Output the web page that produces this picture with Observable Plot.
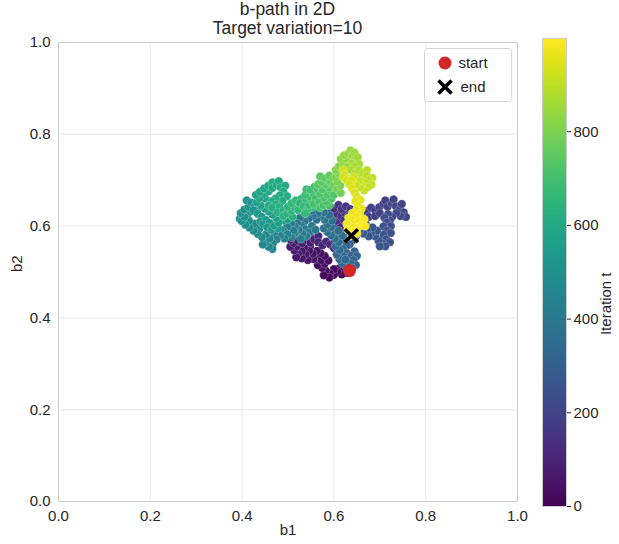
<!DOCTYPE html>
<html>
<head>
<meta charset="utf-8">
<script src="https://cdn.jsdelivr.net/npm/d3@7"></script>
<script src="https://cdn.jsdelivr.net/npm/@observablehq/plot@0.6"></script>
<style>
  body { margin: 0; background: #ffffff; font-family: "Liberation Sans", Arial, sans-serif; }
  #wrap { position: relative; width: 619px; height: 544px; }
  #wrap svg { position: absolute; top: 0; }
</style>
</head>
<body>
<div id="wrap"></div>
<script>
// ---- data: b-path points [b1, b2, iteration] ----
const segEarly = [
  [0.634,0.503,0],[0.626,0.498,4],[0.617,0.495,8],[0.608,0.500,12],[0.600,0.494,16],[0.591,0.497,20],
  [0.582,0.503,24],[0.574,0.509,28],[0.580,0.518,32],[0.573,0.526,36],[0.580,0.535,40],[0.571,0.541,44],
  [0.563,0.546,48],[0.554,0.540,52],[0.546,0.546,56],[0.538,0.538,60],[0.530,0.545,64],[0.522,0.540,68],
  [0.514,0.547,72],[0.519,0.556,76],[0.512,0.563,80],[0.522,0.568,84],[0.531,0.563,88],[0.540,0.570,92],
  [0.549,0.564,96],[0.557,0.571,100],[0.566,0.565,104],[0.575,0.558,108],[0.583,0.566,112],[0.592,0.560,116],
  [0.600,0.552,118],[0.607,0.560,120],[0.601,0.570,122],[0.608,0.579,124],[0.600,0.588,126],[0.606,0.597,128],
  [0.598,0.605,130],[0.606,0.612,132],[0.598,0.620,136],[0.607,0.627,140],[0.616,0.621,144],[0.624,0.629,148],
  [0.617,0.637,152],[0.626,0.643,156],[0.636,0.637,160],[0.645,0.629,164],
  [0.622,0.510,6],[0.612,0.508,10],[0.600,0.506,18],[0.590,0.488,22],[0.578,0.493,26],[0.565,0.515,30],
  [0.562,0.528,34],[0.588,0.525,38],[0.555,0.528,50],[0.543,0.526,58],[0.530,0.530,62],[0.518,0.532,70],
  [0.548,0.555,54],[0.535,0.553,62],[0.505,0.555,78],[0.506,0.570,82],[0.530,0.576,86],[0.548,0.578,94],
  [0.566,0.578,102],[0.614,0.605,129],[0.615,0.592,126],[0.590,0.612,134],[0.590,0.628,138],[0.600,0.638,142],
  [0.610,0.646,150],[0.622,0.613,146],[0.632,0.622,158]
];
const segRightLobe = [
  [0.654,0.634,168],[0.663,0.627,172],[0.672,0.633,176],[0.681,0.640,180],[0.690,0.634,184],[0.699,0.641,188],
  [0.708,0.648,192],[0.717,0.642,196],[0.726,0.649,200],[0.735,0.643,204],[0.744,0.637,208],[0.752,0.630,212],
  [0.745,0.622,216],[0.736,0.628,220],[0.727,0.620,224],[0.718,0.626,228],[0.710,0.618,232],[0.715,0.608,236],
  [0.708,0.599,240],[0.715,0.590,244],[0.708,0.581,248],[0.714,0.571,252],[0.706,0.562,256],[0.697,0.568,260],
  [0.690,0.578,264],[0.681,0.584,268],[0.672,0.590,272],[0.663,0.596,276],[0.669,0.605,278],[0.660,0.611,280],
  [0.660,0.618,170],[0.676,0.620,178],[0.690,0.622,186],[0.700,0.628,190],[0.712,0.656,194],[0.730,0.658,202],
  [0.748,0.648,210],[0.757,0.620,214],[0.722,0.612,230],[0.724,0.600,238],[0.724,0.585,246],[0.722,0.565,254],
  [0.712,0.556,258],[0.700,0.556,260],[0.694,0.590,266],[0.684,0.597,270],[0.676,0.578,272],[0.664,0.584,276],
  [0.655,0.588,282]
];
const segCentre = [
  [0.652,0.600,284],[0.646,0.590,288],[0.638,0.582,292],[0.630,0.575,296],[0.622,0.568,300],[0.628,0.558,304],
  [0.620,0.550,308],[0.628,0.541,312],[0.637,0.535,316],[0.643,0.526,320],[0.636,0.518,324],[0.627,0.512,328],
  [0.618,0.518,332],[0.612,0.528,336],[0.606,0.538,340],[0.612,0.548,344],[0.604,0.556,348],[0.610,0.565,352],
  [0.602,0.573,356],[0.594,0.580,360],[0.586,0.587,362],
  [0.648,0.578,290],[0.640,0.568,294],[0.634,0.560,302],[0.645,0.545,314],[0.650,0.535,318],[0.648,0.515,322],
  [0.640,0.508,326],[0.620,0.535,334],[0.625,0.527,338],[0.618,0.580,358],[0.610,0.590,360]
];
const segMidLeft = [
  [0.578,0.595,366],[0.586,0.604,370],[0.580,0.614,374],[0.571,0.620,378],[0.562,0.614,382],[0.554,0.622,386],
  [0.545,0.616,390],[0.536,0.610,394],[0.530,0.601,398],[0.538,0.593,402],[0.546,0.586,406],[0.540,0.578,410],
  [0.531,0.584,414],[0.523,0.592,418],[0.515,0.599,421],
  [0.594,0.598,368],[0.596,0.612,372],[0.590,0.624,376],[0.578,0.630,378],[0.565,0.628,382],[0.552,0.634,388],
  [0.540,0.628,392],[0.526,0.618,396],[0.520,0.606,400],[0.552,0.600,404],[0.560,0.592,406],[0.528,0.572,414],
  [0.515,0.585,420]
];
const segFarLeft = [
  [0.507,0.606,424],[0.498,0.598,428],[0.490,0.590,432],[0.499,0.582,436],[0.492,0.573,440],[0.483,0.579,444],
  [0.475,0.571,448],[0.467,0.562,452],[0.458,0.555,456],[0.452,0.564,460],[0.460,0.573,464],[0.452,0.582,468],
  [0.443,0.576,472],[0.434,0.583,476],[0.425,0.590,480],[0.416,0.597,484],[0.407,0.603,488],[0.399,0.611,492],
  [0.405,0.620,496],[0.397,0.628,500],[0.405,0.636,504],[0.414,0.642,508],[0.420,0.651,512],[0.428,0.644,516],
  [0.425,0.634,520],[0.434,0.627,524],[0.443,0.620,528],[0.452,0.613,532],[0.446,0.604,536],[0.455,0.597,540],
  [0.464,0.592,544],[0.470,0.601,548],[0.479,0.608,552],[0.474,0.618,556],[0.466,0.625,560],[0.458,0.632,564],
  [0.450,0.638,568],
  [0.512,0.590,426],[0.508,0.575,434],[0.483,0.593,438],[0.470,0.585,446],[0.466,0.550,454],[0.445,0.560,462],
  [0.438,0.595,474],[0.428,0.605,482],[0.415,0.612,486],[0.412,0.626,494],[0.418,0.632,502],[0.395,0.616,490],
  [0.410,0.656,510],[0.436,0.640,518],[0.440,0.610,530],[0.460,0.607,538],[0.478,0.595,546],[0.490,0.612,550],
  [0.500,0.615,552],[0.488,0.622,554],[0.478,0.630,558],[0.468,0.640,562],[0.460,0.645,566]
];
const segGreen = [
  [0.441,0.645,572],[0.432,0.652,576],[0.438,0.661,580],[0.430,0.668,584],[0.439,0.675,588],[0.448,0.682,592],
  [0.457,0.688,596],[0.466,0.683,600],[0.475,0.689,604],[0.484,0.684,608],[0.490,0.675,612],[0.482,0.667,616],
  [0.473,0.660,620],[0.464,0.654,624],[0.473,0.647,628],[0.482,0.641,632],[0.490,0.634,636],[0.498,0.627,640],
  [0.507,0.633,644],[0.500,0.642,648],[0.508,0.650,652],[0.517,0.656,656],[0.526,0.650,660],[0.534,0.643,664],
  [0.543,0.637,668],[0.537,0.628,672],[0.546,0.646,676],[0.552,0.655,680],[0.547,0.664,684],[0.556,0.670,688],
  [0.549,0.679,692],[0.558,0.686,696],[0.566,0.692,700],
  [0.450,0.660,574],[0.448,0.670,582],[0.458,0.676,590],[0.466,0.695,598],[0.480,0.698,604],[0.494,0.688,610],
  [0.498,0.665,614],[0.488,0.655,618],[0.458,0.645,626],[0.466,0.640,628],[0.478,0.630,634],[0.490,0.622,638],
  [0.510,0.620,642],[0.515,0.640,650],[0.522,0.635,654],[0.530,0.660,658],[0.540,0.655,662],[0.552,0.640,666],
  [0.538,0.668,686],[0.540,0.680,690],[0.565,0.680,698]
];
const segLightGreen = [
  [0.560,0.660,704],[0.568,0.652,708],[0.577,0.645,712],[0.584,0.653,716],[0.578,0.662,720],[0.586,0.669,724],
  [0.595,0.675,730],[0.590,0.684,736],[0.581,0.690,742],[0.573,0.697,748],[0.581,0.704,754],[0.590,0.710,760],
  [0.599,0.704,766],[0.606,0.696,772],[0.599,0.688,778],[0.607,0.681,784],[0.614,0.688,790],[0.608,0.697,796],
  [0.556,0.648,706],[0.570,0.640,710],[0.590,0.645,714],[0.595,0.660,718],[0.570,0.670,722],[0.575,0.680,726],
  [0.600,0.668,730],[0.565,0.690,744],[0.570,0.708,750],[0.592,0.696,758],[0.615,0.672,786]
];
const segTop = [
  [0.604,0.706,800],[0.611,0.714,806],[0.604,0.722,812],[0.611,0.730,818],[0.620,0.737,824],[0.615,0.746,830],
  [0.622,0.754,836],[0.631,0.758,842],[0.640,0.753,848],[0.646,0.744,854],[0.638,0.737,860],[0.629,0.730,866],
  [0.637,0.722,872],[0.646,0.716,878],[0.655,0.722,884],[0.663,0.716,890],[0.672,0.710,896],[0.676,0.700,900],
  [0.668,0.694,904],[0.674,0.685,908],[0.666,0.678,912],[0.657,0.684,916],[0.648,0.690,920],[0.639,0.697,924],
  [0.630,0.704,928],[0.623,0.712,932],
  [0.615,0.722,808],[0.622,0.726,820],[0.628,0.745,832],[0.636,0.765,844],[0.645,0.760,850],[0.652,0.750,856],
  [0.655,0.735,862],[0.645,0.730,868],[0.650,0.705,876],[0.660,0.708,886],[0.672,0.722,894],[0.684,0.705,898],
  [0.682,0.690,906],[0.660,0.690,914],[0.655,0.698,918],[0.642,0.707,924],[0.620,0.722,930]
];
const segLate = [
  [0.628,0.700,936],[0.634,0.691,940],[0.640,0.682,944],[0.645,0.673,948],[0.650,0.664,952],[0.647,0.654,956],
  [0.653,0.645,960],[0.649,0.635,964],[0.656,0.627,968],[0.648,0.620,972],[0.640,0.614,976],[0.646,0.605,980],
  [0.655,0.611,984],[0.660,0.602,988],[0.652,0.596,992],[0.643,0.590,995],[0.638,0.579,999],
  [0.620,0.706,934],[0.638,0.700,938],[0.658,0.657,954],[0.660,0.638,962],[0.640,0.628,966],[0.632,0.618,974],
  [0.628,0.605,978],[0.636,0.598,982],[0.666,0.615,986],[0.668,0.600,990],[0.630,0.592,994],[0.650,0.584,996]
];
const startPoint = [0.634, 0.503];
const endPoint = [0.638, 0.579];
const axisTicks = [0, 0.2, 0.4, 0.6, 0.8, 1.0];
const colorTicks = [0, 200, 400, 600, 800];
const iterMax = 999;
const titleLines = ["b-path in 2D", "Target variation=10"];
const legendLabels = ["start", "end"];

// ---- build ----
const points = [...segEarly, ...segRightLobe, ...segCentre, ...segMidLeft, ...segFarLeft,
  ...segGreen, ...segLightGreen, ...segTop, ...segLate]
  .map(([b1, b2, t]) => ({b1, b2, t}))
  .sort((a, b) => a.t - b.t);
const INK = "#262626";
const FONT = "'Liberation Sans', Arial, sans-serif";

const main = Plot.plot({
  width: 619, height: 544,
  marginLeft: 58, marginRight: 102, marginTop: 42, marginBottom: 43,
  style: {background: "transparent", fontFamily: FONT, fontSize: "15px", color: INK},
  x: {domain: [0, 1]},
  y: {domain: [0, 1]},
  color: {type: "linear", scheme: "viridis", domain: [0, iterMax]},
  marks: [
    Plot.gridX(axisTicks, {stroke: "#ebebeb", strokeOpacity: 1, strokeWidth: 1}),
    Plot.gridY(axisTicks, {stroke: "#ebebeb", strokeOpacity: 1, strokeWidth: 1}),
    Plot.frame({stroke: "#cccccc", strokeWidth: 1}),
    Plot.axisX(axisTicks, {tickSize: 0, tickPadding: 9, tickFormat: d3.format(".1f"), label: null, fontSize: 15, fill: INK}),
    Plot.axisY(axisTicks, {tickSize: 0, tickPadding: 8, tickFormat: d3.format(".1f"), label: null, fontSize: 15, fill: INK}),
    Plot.dot(points, {x: "b1", y: "b2", fill: "t", r: 4.2, stroke: "white", strokeWidth: 0.5, strokeOpacity: 0.45}),
    Plot.dot([startPoint], {x: d => d[0], y: d => d[1], fill: "#d62728", r: 6.5}),
    Plot.dot([endPoint], {x: d => d[0], y: d => d[1], symbol: "times", stroke: "black", strokeWidth: 3.6, r: 6}),
    Plot.text(["b1"], {frameAnchor: "bottom", dy: 33, fontSize: 15, fill: INK}),
    Plot.text(["b2"], {frameAnchor: "left", dx: -41, rotate: -90, fontSize: 15, fill: INK})
  ]
});

const svg = d3.select(main);
// title
titleLines.forEach((line, i) => {
  svg.append("text").attr("x", 287.5).attr("y", 15 + i * 18.5)
    .attr("text-anchor", "middle").attr("font-size", 17.5).attr("font-family", FONT)
    .attr("fill", INK).text(line);
});
// legend
const lg = svg.append("g");
lg.append("rect").attr("x", 424.5).attr("y", 48.5).attr("width", 87).attr("height", 53).attr("rx", 3)
  .attr("fill", "white").attr("fill-opacity", 0.85).attr("stroke", "#d6d6d6");
lg.append("circle").attr("cx", 445).attr("cy", 63).attr("r", 6.5).attr("fill", "#d62728");
lg.append("path").attr("d", d3.symbol(d3.symbolTimes, 113)()).attr("transform", "translate(445,87)")
  .attr("stroke", "black").attr("stroke-width", 3.6).attr("fill", "none");
legendLabels.forEach((lab, i) => {
  lg.append("text").attr("x", 473).attr("y", 63 + i * 24).attr("dy", "0.35em")
    .attr("font-size", 15).attr("font-family", FONT).attr("fill", INK).text(lab);
});

const bar = Plot.plot({
  width: 99, height: 544,
  marginLeft: 22, marginRight: 53, marginTop: 38, marginBottom: 38,
  style: {background: "transparent", fontFamily: FONT, fontSize: "15px", color: INK},
  x: {domain: [0, 1], axis: null},
  y: {domain: [0, iterMax], axis: null},
  color: {type: "linear", scheme: "viridis", domain: [0, iterMax]},
  marks: [
    Plot.raster({x1: 0, x2: 1, y1: 0, y2: iterMax, width: 1, height: 468, fill: (x, y) => y, imageRendering: "auto"}),
    Plot.frame({stroke: "#cccccc", strokeWidth: 1}),
    Plot.axisY(colorTicks, {anchor: "right", tickSize: 4, tickPadding: 3, label: null, fontSize: 15, fill: INK, stroke: INK}),
    Plot.text(["Iteration t"], {frameAnchor: "right", dx: 40, rotate: -90, fontSize: 15, fill: INK})
  ]
});

const wrap = document.getElementById("wrap");
main.style.left = "0px";
bar.style.left = "520px";
wrap.appendChild(main);
wrap.appendChild(bar);
</script>
</body>
</html>
